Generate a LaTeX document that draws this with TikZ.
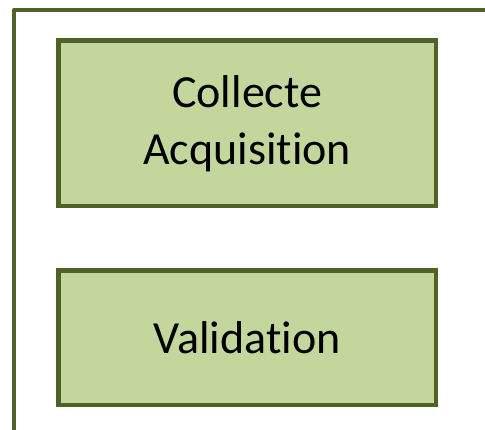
\documentclass[tikz,border=0pt]{standalone}
\usepackage{fontspec}
\setmainfont[Ligatures={NoCommon}]{Carlito}
\usetikzlibrary{positioning}
\definecolor{boxfill}{HTML}{C3D69B}
\definecolor{boxline}{HTML}{4F6228}
\begin{document}
\begin{tikzpicture}
    \tikzstyle{every node} = [font=\fontsize{46}{57}\selectfont]
    \tikzstyle{block} = [draw=boxline, line width=4.5pt, rectangle, fill=boxfill, outer sep=0pt, minimum width=377.5pt, align=center]
    \useasboundingbox (0,0) rectangle (485pt,-430pt);
    % frame
    \draw[boxline, line width=4.5pt, line join=round] (490pt,-10pt) -- (14pt,-10pt) -- (14pt,-435pt);
    % place nodes
    \node[block, minimum height=165.5pt](collecte) at (247.25pt,-123.25pt){Collecte\\Acquisition};
    \node[block, minimum height=134.5pt, below=64.5pt of collecte](validation){Validation};
\end{tikzpicture}
\end{document}
